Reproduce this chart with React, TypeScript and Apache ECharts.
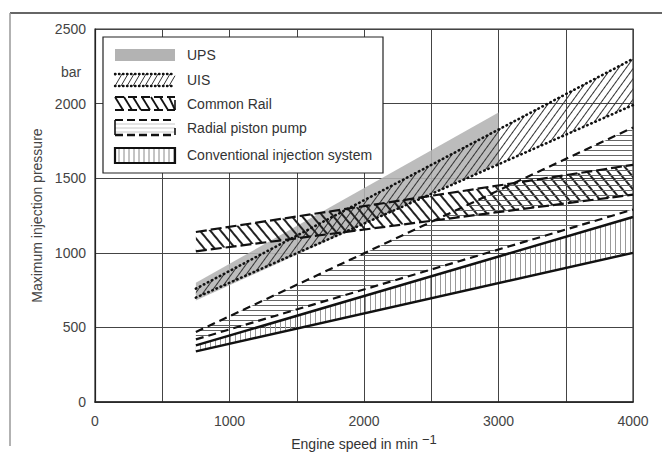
import React, { useEffect, useRef } from 'react';
import * as echarts from 'echarts';

// ---- data (engine speed in min^-1, pressure in bar) ----
const bandSpeeds = [750, 4000];
const upsSpeeds = [750, 3000];
const upsLower = [680, 1600];
const upsUpper = [800, 1940];
const uisLower = [700, 1990];
const uisUpper = [760, 2300];
const railLower = [1010, 1390];
const railUpper = [1140, 1590];
const radialLower = [420, 1290];
const radialUpper = [470, 1840];
const convLower = [340, 1000];
const convUpper = [380, 1240];

const legendNames = ['UPS', 'UIS', 'Common Rail', 'Radial piston pump', 'Conventional injection system'];
const xMax = 4000;
const yMax = 2500;
const tickStep = 500;
const xLabelStep = 1000;

const FONT = 'Liberation Sans, Arial, Helvetica, sans-serif';
const INK = '#111';

// filled band between lower and upper boundary, drawn through the grid's scales
function bandFill(name: string, xs: number[], lower: number[], upper: number[], style: any) {
  return {
    type: 'custom',
    name,
    coordinateSystem: 'cartesian2d',
    silent: true,
    clip: true,
    data: xs.map((x, i) => [x, lower[i], upper[i]]),
    encode: { x: 0, y: [1, 2] },
    renderItem: (params: any, api: any) => {
      const i = params.dataIndex;
      if (i >= xs.length - 1) return { type: 'group', children: [] };
      const pts = [
        api.coord([xs[i], lower[i]]),
        api.coord([xs[i + 1], lower[i + 1]]),
        api.coord([xs[i + 1], upper[i + 1]]),
        api.coord([xs[i], upper[i]]),
      ];
      return { type: 'polygon', shape: { points: pts }, style: { ...style } };
    },
  };
}

function boundary(name: string, xs: number[], vals: number[], lineStyle: any) {
  return {
    type: 'line',
    name,
    data: xs.map((x, i) => [x, vals[i]]),
    symbol: 'none',
    showSymbol: false,
    silent: true,
    lineStyle,
    itemStyle: { color: INK },
  };
}

const dotted = { color: INK, width: 2.6, type: [0.5, 4], cap: 'round' };
const railDash = { color: INK, width: 2.2, type: [11, 4] };
const radialDash = { color: INK, width: 2.2, type: [8, 5] };
const solidLine = { color: INK, width: 2.5, type: 'solid' };
const clear = 'rgba(255,255,255,0)';

const series = [
  bandFill(legendNames[0], upsSpeeds, upsLower, upsUpper, { fill: '#b3b3b3', opacity: 0.88 }),
  bandFill(legendNames[1], bandSpeeds, uisLower, uisUpper, {
    fill: clear,
    decal: { symbol: 'rect', symbolSize: 1, dashArrayX: [1, 0], dashArrayY: [1, 5], rotation: -Math.PI * 0.3, color: '#333' },
  }),
  boundary(legendNames[1] + ' max', bandSpeeds, uisUpper, dotted),
  boundary(legendNames[1] + ' min', bandSpeeds, uisLower, dotted),
  bandFill(legendNames[2], bandSpeeds, railLower, railUpper, {
    fill: clear,
    decal: { symbol: 'rect', symbolSize: 1, dashArrayX: [1, 0], dashArrayY: [1.6, 5.4], rotation: Math.PI * 0.28, color: '#222' },
  }),
  boundary(legendNames[2] + ' max', bandSpeeds, railUpper, railDash),
  boundary(legendNames[2] + ' min', bandSpeeds, railLower, railDash),
  bandFill(legendNames[3], bandSpeeds, radialLower, radialUpper, {
    fill: clear,
    decal: { symbol: 'rect', symbolSize: 1, dashArrayX: [1, 0], dashArrayY: [1, 4], rotation: 0, color: '#666' },
  }),
  boundary(legendNames[3] + ' max', bandSpeeds, radialUpper, radialDash),
  boundary(legendNames[3] + ' min', bandSpeeds, radialLower, radialDash),
  bandFill(legendNames[4], bandSpeeds, convLower, convUpper, {
    fill: clear,
    decal: { symbol: 'rect', symbolSize: 1, dashArrayX: [1, 4], dashArrayY: [1, 0], rotation: 0, color: '#9a9a9a' },
  }),
  boundary(legendNames[4] + ' max', bandSpeeds, convUpper, solidLine),
  boundary(legendNames[4] + ' min', bandSpeeds, convLower, solidLine),
];

function legendGraphic() {
  const x0 = 115;
  const w = 60;
  const kids: any[] = [];
  kids.push({ type: 'rect', shape: { x: 103, y: 37, width: 280, height: 136 }, style: { fill: '#fff', stroke: '#222', lineWidth: 1.2 } });
  // UPS
  kids.push({ type: 'rect', shape: { x: x0, y: 49, width: w, height: 12 }, style: { fill: '#b3b3b3' } });
  // UIS
  for (let x = x0 - 6; x < x0 + w; x += 6) {
    const xa = Math.max(x, x0), xb = Math.min(x + 7, x0 + w);
    const ya = 86 - ((xa - x) / 7) * 12, yb = 86 - ((xb - x) / 7) * 12;
    kids.push({ type: 'line', shape: { x1: xa, y1: ya, x2: xb, y2: yb }, style: { stroke: '#333', lineWidth: 1 } });
  }
  kids.push({ type: 'line', shape: { x1: x0, y1: 74, x2: x0 + w, y2: 74 }, style: { stroke: INK, lineWidth: 2.4, lineDash: [0.5, 3.5], lineCap: 'round' } });
  kids.push({ type: 'line', shape: { x1: x0, y1: 86, x2: x0 + w, y2: 86 }, style: { stroke: INK, lineWidth: 2.4, lineDash: [0.5, 3.5], lineCap: 'round' } });
  // Common Rail
  for (let x = x0; x < x0 + w - 2; x += 9) {
    const xb = Math.min(x + 8, x0 + w);
    kids.push({ type: 'line', shape: { x1: x, y1: 97, x2: xb, y2: 110 }, style: { stroke: INK, lineWidth: 1.8 } });
  }
  kids.push({ type: 'line', shape: { x1: x0, y1: 97, x2: x0 + w, y2: 97 }, style: { stroke: INK, lineWidth: 2.2, lineDash: [9, 4] } });
  kids.push({ type: 'line', shape: { x1: x0, y1: 110, x2: x0 + w, y2: 110 }, style: { stroke: INK, lineWidth: 2.2, lineDash: [9, 4] } });
  kids.push({ type: 'line', shape: { x1: x0 + w, y1: 100, x2: x0 + w, y2: 110 }, style: { stroke: INK, lineWidth: 1.6 } });
  // Radial piston pump
  [124, 128, 132].forEach((y) => kids.push({ type: 'line', shape: { x1: x0, y1: y, x2: x0 + w, y2: y }, style: { stroke: '#c8c8c8', lineWidth: 1 } }));
  kids.push({ type: 'line', shape: { x1: x0, y1: 120, x2: x0 + w, y2: 120 }, style: { stroke: INK, lineWidth: 2, lineDash: [8, 4] } });
  kids.push({ type: 'line', shape: { x1: x0, y1: 135, x2: x0 + w, y2: 135 }, style: { stroke: INK, lineWidth: 2.4, lineDash: [8, 4] } });
  kids.push({ type: 'line', shape: { x1: x0, y1: 120, x2: x0, y2: 135 }, style: { stroke: INK, lineWidth: 1.6 } });
  kids.push({ type: 'line', shape: { x1: x0 + w, y1: 128, x2: x0 + w, y2: 135 }, style: { stroke: INK, lineWidth: 1.6 } });
  // Conventional
  for (let x = x0 + 4; x < x0 + w; x += 5) {
    kids.push({ type: 'line', shape: { x1: x, y1: 148, x2: x, y2: 163 }, style: { stroke: '#8a8a8a', lineWidth: 1 } });
  }
  kids.push({ type: 'rect', shape: { x: x0, y: 148, width: w, height: 15 }, style: { fill: 'none', stroke: INK, lineWidth: 2.2 } });
  // texts
  const ys = [55, 80, 104, 128, 155];
  legendNames.forEach((n, i) => {
    kids.push({ type: 'text', x: 187, y: ys[i], style: { text: n, font: `14px ${FONT}`, fill: '#333', verticalAlign: 'middle', align: 'left' } });
  });
  return kids.map((k, i) => ({ ...k, z: 100 + i, silent: true }));
}

const option: any = {
  animation: false,
  backgroundColor: '#fff',
  grid: { left: 95, right: 29, top: 29, bottom: 52, show: true, borderColor: '#333', borderWidth: 1.2, backgroundColor: 'transparent' },
  xAxis: {
    type: 'value',
    min: 0,
    max: xMax,
    interval: tickStep,
    name: 'Engine speed in min {sup|−1}',
    nameLocation: 'middle',
    nameGap: 30,
    nameTextStyle: { fontSize: 14, color: '#333', fontFamily: FONT, rich: { sup: { fontSize: 13, color: '#333', fontFamily: FONT, padding: [0, 0, 9, 0] } } },
    axisLine: { show: true, lineStyle: { color: '#222', width: 1.5 } },
    axisTick: { show: false },
    axisLabel: { fontSize: 14, color: '#444', fontFamily: FONT, margin: 12, formatter: (v: number) => (v % xLabelStep === 0 ? String(v) : '') },
    splitLine: { show: true, lineStyle: { color: '#444', width: 1 } },
  },
  yAxis: {
    type: 'value',
    min: 0,
    max: yMax,
    interval: tickStep,
    name: 'Maximum injection pressure',
    nameLocation: 'middle',
    nameGap: 51,
    nameTextStyle: { fontSize: 14, color: '#444', fontFamily: FONT },
    axisLine: { show: true, lineStyle: { color: '#222', width: 1.2 } },
    axisTick: { show: false },
    axisLabel: { fontSize: 14, color: '#444', fontFamily: FONT, margin: 9, formatter: (v: number) => String(v) },
    splitLine: { show: true, lineStyle: { color: '#444', width: 1 } },
  },
  series,
  graphic: [
    { type: 'line', z: 100, silent: true, shape: { x1: 10, y1: 13, x2: 662, y2: 13 }, style: { stroke: '#666', lineWidth: 2 } },
    { type: 'line', z: 100, silent: true, shape: { x1: 10, y1: 13, x2: 10, y2: 446 }, style: { stroke: '#999', lineWidth: 1.5 } },
    { type: 'text', z: 100, silent: true, x: 71, y: 72, style: { text: 'bar', font: `14px ${FONT}`, fill: '#444', align: 'center', verticalAlign: 'middle' } },
    ...legendGraphic(),
  ],
};

export default function App() {
  const ref = useRef<HTMLDivElement>(null);
  useEffect(() => {
    if (!ref.current) return;
    const chart = echarts.init(ref.current, null, { renderer: 'svg' });
    chart.setOption(option);
    return () => chart.dispose();
  }, []);
  return <div ref={ref} style={{ position: 'fixed', left: 0, top: 0, width: 662, height: 456, background: '#fff' }} />;
}
